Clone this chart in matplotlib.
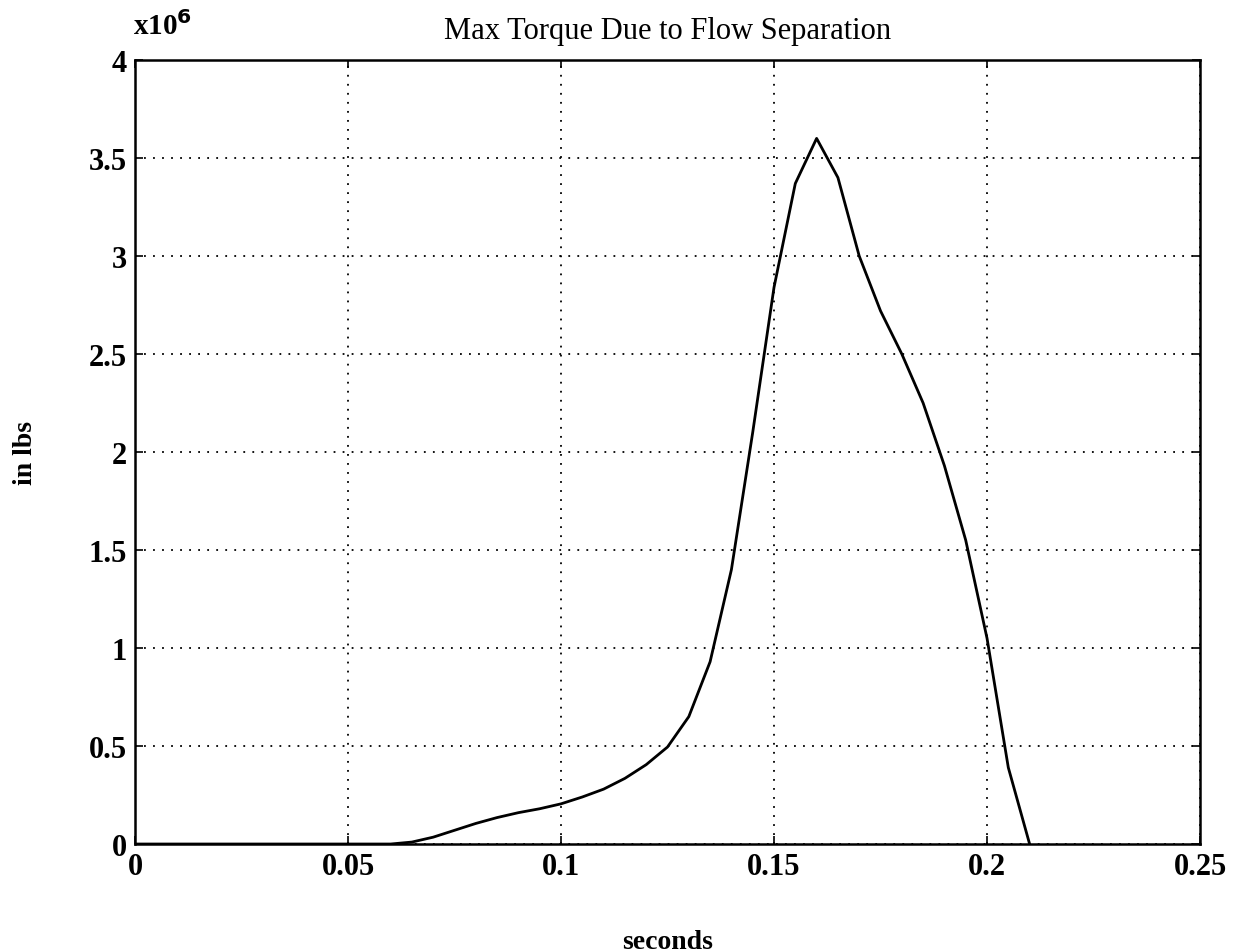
import matplotlib.pyplot as plt

plt.rcParams['font.family'] = ['Liberation Serif', 'DejaVu Serif']

# time (s) and torque (in lbs, units of 1e6)
seconds = [0.0, 0.05, 0.06, 0.065, 0.07, 0.075, 0.08, 0.085, 0.09, 0.095, 0.1,
           0.105, 0.11, 0.115, 0.12, 0.125, 0.13, 0.135, 0.14, 0.145, 0.15,
           0.155, 0.16, 0.165, 0.17, 0.175, 0.18, 0.185, 0.19, 0.195, 0.2,
           0.205, 0.21]
torque = [0.0, 0.0, 0.0, 0.01, 0.035, 0.07, 0.105, 0.135, 0.16, 0.18, 0.205,
          0.24, 0.28, 0.335, 0.405, 0.495, 0.65, 0.93, 1.4, 2.1, 2.84,
          3.37, 3.6, 3.4, 3.0, 2.72, 2.5, 2.25, 1.93, 1.55, 1.05,
          0.39, 0.0]

xticks = [0, 0.05, 0.1, 0.15, 0.2, 0.25]
xticklabels = ['0', '0.05', '0.1', '0.15', '0.2', '0.25']
yticks = [0, 0.5, 1, 1.5, 2, 2.5, 3, 3.5, 4]
yticklabels = ['0', '0.5', '1', '1.5', '2', '2.5', '3', '3.5', '4']

fig = plt.figure(figsize=(12.42, 9.53), dpi=100)
ax = fig.add_axes([0.1087, 0.1133, 0.8575, 0.8227])

ax.plot(seconds, torque, color='black', linewidth=2)

ax.set_xlim(0, 0.25)
ax.set_ylim(0, 4)
ax.set_xticks(xticks)
ax.set_xticklabels(xticklabels, fontweight='bold')
ax.set_yticks(yticks)
ax.set_yticklabels(yticklabels, fontweight='bold')
ax.tick_params(direction='in', length=6, width=1.2, labelsize=22, top=True, right=True,
               labeltop=False, labelright=False)
ax.tick_params(axis='x', pad=6)
ax.tick_params(axis='y', pad=6)
ax.grid(True, color='black', linestyle=(0, (1, 4)), linewidth=1.3)
for s in ax.spines.values():
    s.set_linewidth(1.8)

ax.set_title('Max Torque Due to Flow Separation', fontsize=22, pad=16)
ax.set_xlabel('seconds', fontsize=20, fontweight='bold', labelpad=34)
ax.set_ylabel('in lbs', fontsize=20, fontweight='bold', labelpad=36)
ax.text(-0.0005, 4.1, r'x10$^{\mathbf{6}}$', fontsize=21, fontweight='bold',
        ha='left', va='bottom')

fig.savefig('out.png', dpi=100)
